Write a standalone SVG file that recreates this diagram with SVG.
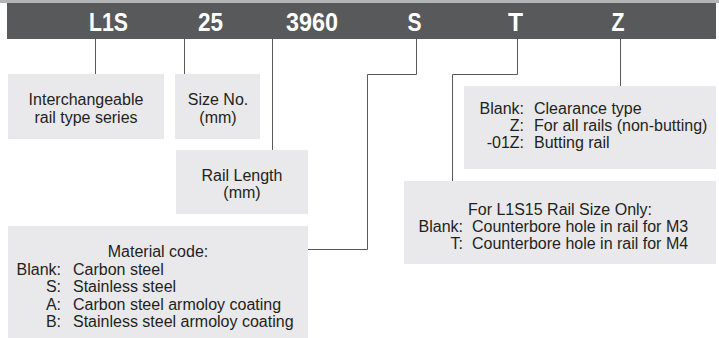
<svg xmlns="http://www.w3.org/2000/svg" width="719" height="338" viewBox="0 0 719 338">
<style>
.band{fill:#58595b}
.code{font-family:"Liberation Sans",Arial,sans-serif;font-weight:bold;font-size:26px;fill:#ffffff;text-anchor:middle}
.box{fill:#e9e9eb}
.t{font-family:"Liberation Sans",Arial,sans-serif;font-size:16px;fill:#231f20}
.c{text-anchor:middle}
.e{text-anchor:end}
.ln{fill:none;stroke:#58595b;stroke-width:1}
</style>
<rect x="0" y="0" width="719" height="3" fill="#b3b4b6"/>
<g id="code-band">
<rect class="band" x="7" y="3" width="709" height="36"/>
<text class="code" x="108.5" y="31" textLength="39" lengthAdjust="spacingAndGlyphs">L1S</text>
<text class="code" x="210.5" y="31" textLength="25" lengthAdjust="spacingAndGlyphs">25</text>
<text class="code" x="312" y="31" textLength="52" lengthAdjust="spacingAndGlyphs">3960</text>
<text class="code" x="414.5" y="31" textLength="14" lengthAdjust="spacingAndGlyphs">S</text>
<text class="code" x="515.5" y="31" textLength="15" lengthAdjust="spacingAndGlyphs">T</text>
<text class="code" x="618" y="31" textLength="13" lengthAdjust="spacingAndGlyphs">Z</text>
</g>
<g id="connectors">
<path class="ln" d="M95.5 39V74"/>
<path class="ln" d="M184.5 39V74"/>
<path class="ln" d="M272.5 39V150"/>
<path class="ln" d="M416.5 39V74.5H367.5V249.5H308"/>
<path class="ln" d="M517.5 39V74.5H452.5V181"/>
<path class="ln" d="M620.5 39V86"/>
</g>
<g id="node-series">
<rect class="box" x="8" y="74" width="156" height="65"/>
<text class="t c" x="86" y="105">Interchangeable</text>
<text class="t c" x="86" y="123">rail type series</text>
</g>
<g id="node-size">
<rect class="box" x="175" y="74" width="85" height="65"/>
<text class="t c" x="218" y="105">Size No.</text>
<text class="t c" x="218" y="123">(mm)</text>
</g>
<g id="node-length">
<rect class="box" x="176" y="150" width="132" height="64"/>
<text class="t c" x="242" y="181">Rail Length</text>
<text class="t c" x="242" y="198">(mm)</text>
</g>
<g id="node-material">
<rect class="box" x="8" y="226" width="300" height="112"/>
<text class="t c" x="158" y="257">Material code:</text>
<text class="t e" x="61" y="274.5">Blank:</text>
<text class="t" x="73" y="274.5">Carbon steel</text>
<text class="t e" x="61" y="292">S:</text>
<text class="t" x="73" y="292">Stainless steel</text>
<text class="t e" x="61" y="309.5">A:</text>
<text class="t" x="73" y="309.5">Carbon steel armoloy coating</text>
<text class="t e" x="61" y="327">B:</text>
<text class="t" x="73" y="327">Stainless steel armoloy coating</text>
</g>
<g id="node-clearance">
<rect class="box" x="464" y="86" width="252" height="83"/>
<text class="t e" x="524" y="114">Blank:</text>
<text class="t" x="534" y="114">Clearance type</text>
<text class="t e" x="524" y="131">Z:</text>
<text class="t" x="534" y="131">For all rails (non-butting)</text>
<text class="t e" x="524" y="147.5">-01Z:</text>
<text class="t" x="534" y="147.5">Butting rail</text>
</g>
<g id="node-counterbore">
<rect class="box" x="404" y="181" width="312" height="83"/>
<text class="t c" x="560" y="215">For L1S15 Rail Size Only:</text>
<text class="t e" x="463" y="232">Blank:</text>
<text class="t" x="472" y="232">Counterbore hole in rail for M3</text>
<text class="t e" x="463" y="249">T:</text>
<text class="t" x="472" y="249">Counterbore hole in rail for M4</text>
</g>
</svg>
